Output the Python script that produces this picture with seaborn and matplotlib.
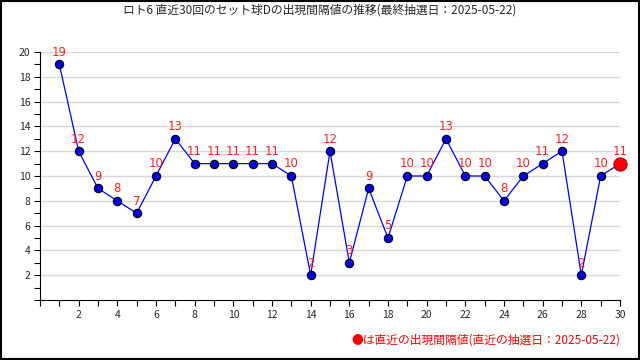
import numpy as np
import pandas as pd
import matplotlib
matplotlib.use("Agg")
import matplotlib.pyplot as plt
import seaborn as sns
from matplotlib.ticker import MultipleLocator

# Data: interval values for the last 30 draws
draws = list(range(1, 31))
intervals = [19, 12, 9, 8, 7, 10, 13, 11, 11, 11, 11, 11, 10, 2, 12,
             3, 9, 5, 10, 10, 13, 10, 10, 8, 10, 11, 12, 2, 10, 11]
x_ticks = list(range(2, 31, 2))
y_ticks = list(range(2, 21, 2))
title_text = "ロト6 直近30回のセット球Dの出現間隔値の推移(最終抽選日：2025-05-22)"
note_text = "●は直近の出現間隔値(直近の抽選日：2025-05-22)"

sns.set_style("white")
plt.rcParams['font.family'] = ['Noto Sans CJK JP', 'DejaVu Sans']

df = pd.DataFrame({'draw': draws, 'interval': intervals})

fig = plt.figure(figsize=(6.4, 3.6), dpi=100)
ax = fig.add_axes([40 / 640, 60 / 360, 580 / 640, 248 / 360])

ax.grid(axis='y', color='#d8d8d8', linewidth=1)
ax.set_axisbelow(True)

sns.lineplot(data=df, x='draw', y='interval', ax=ax, color='#0000ff',
             linewidth=0.9, marker='o', markersize=6,
             markerfacecolor='#0000ee', markeredgecolor='black',
             markeredgewidth=0.8, zorder=3, clip_on=False)
last = df.iloc[[-1]]
sns.scatterplot(data=last, x='draw', y='interval', ax=ax, color='red',
                s=90, edgecolor='#aa0000', linewidth=0.8, zorder=4,
                clip_on=False)

for x, y in zip(draws, intervals):
    ax.text(x, y + 0.45, str(y), color='#ff2020', fontsize=8.5,
            ha='center', va='bottom', family=['DejaVu Sans'], zorder=5)

ax.set_xlim(0, 30)
ax.set_ylim(0, 20)
ax.set_xticks(x_ticks)
ax.set_yticks(y_ticks)
ax.xaxis.set_minor_locator(MultipleLocator(1))
ax.yaxis.set_minor_locator(MultipleLocator(1))
ax.tick_params(axis='both', which='both', direction='out', length=4,
               width=0.8, color='black', labelsize=7.5, pad=3,
               bottom=True, left=True)
ax.set_xlabel('')
ax.set_ylabel('')
sns.despine(ax=ax, top=True, right=True)
ax.spines['left'].set_color('black')
ax.spines['bottom'].set_color('black')

fig.text(0.5, 1 - 10 / 360, title_text, ha='center', va='center', fontsize=8.5)
fig.text(620 / 640, 1 - 340 / 360, note_text, ha='right', va='center',
         fontsize=8.5, color='red')

border = plt.Rectangle((0.001, 0.002), 0.997, 0.996, transform=fig.transFigure,
                       fill=False, edgecolor='black', linewidth=1.5)
fig.patches.append(border)

fig.savefig('out.png', dpi=100)
